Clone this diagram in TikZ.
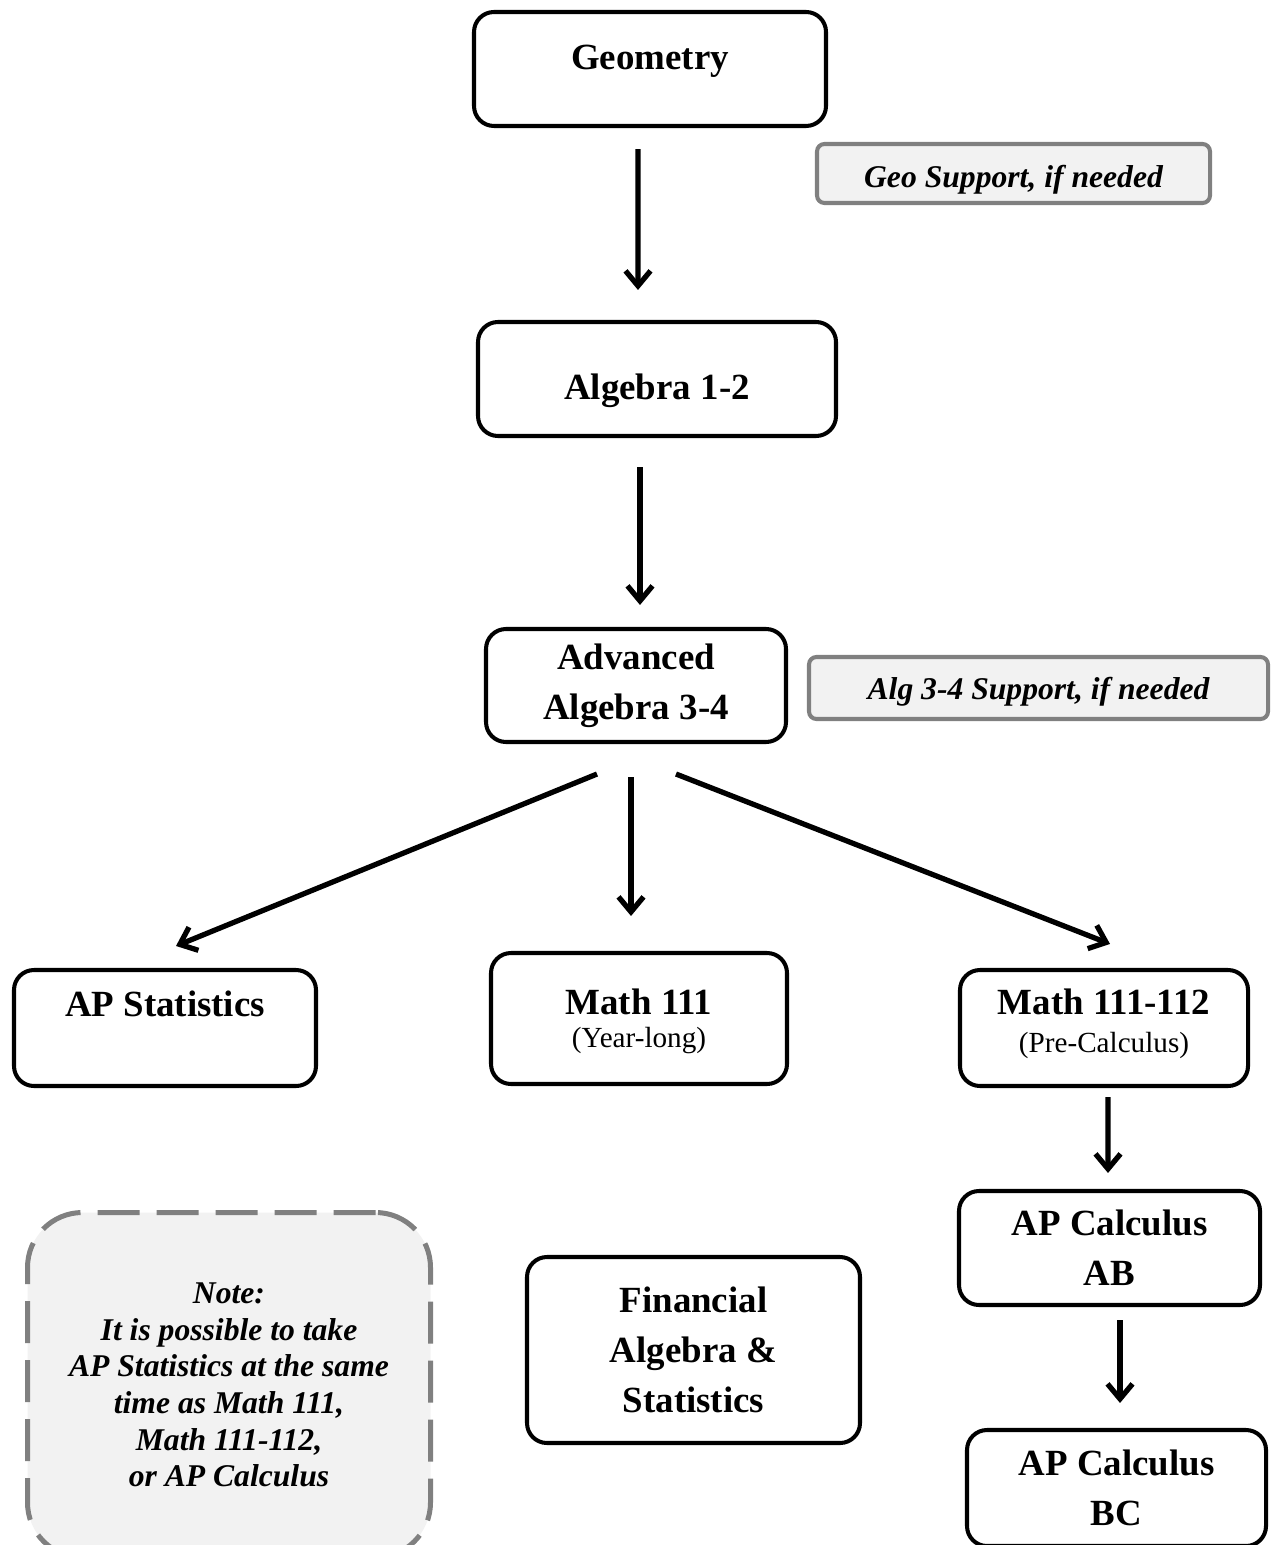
\documentclass[tikz,border=0pt]{standalone}
\usepackage{fontspec}
\setmainfont{Liberation Serif}
\usepackage{tikz}
\usetikzlibrary{arrows.meta,calc}
\definecolor{boxgray}{HTML}{808080}
\definecolor{boxfill}{HTML}{F2F2F2}
\newcommand{\coursefont}{\fontsize{21}{28.5}\selectfont\bfseries}
\newcommand{\subfont}{\fontsize{16.6}{19}\selectfont\mdseries}
\newcommand{\notefont}{\fontsize{18}{20.8}\selectfont\bfseries\itshape}
\newcommand{\lift}[2]{\raisebox{#1}[\height][\depth]{#2}}

\begin{document}
\begin{tikzpicture}[
    course/.style={draw, line width=2.3pt, rounded corners=0.4cm, align=center, font=\coursefont, inner sep=0pt},
    support/.style={draw=boxgray, fill=boxfill, line width=2.3pt, rounded corners=0.15cm, font=\notefont, inner sep=0pt},
    notebox/.style={draw=boxgray, fill=boxfill, line width=0.1cm, dash pattern=on 0.84cm off 0.34cm, rounded corners=1.1cm, align=center, font=\notefont, inner sep=0pt},
    flow/.style={line width=3pt, -{Straight Barb[length=0.3cm, width=0.5cm]}}
  ]
      \useasboundingbox (0,0) rectangle (25.42,-30.9);
      % Define nodes
      \node[course, minimum width=7.04cm, minimum height=2.28cm] (geo) at (13.0,-1.38) {\lift{0.16cm}{Geometry}};
      \node[support, minimum width=7.86cm, minimum height=1.18cm] (geosup) at (20.27,-3.47) {\lift{-0.12cm}{Geo Support, if needed}};
      \node[course, minimum width=7.16cm, minimum height=2.28cm] (alg) at (13.14,-7.58) {\lift{-0.24cm}{Algebra 1-2}};
      \node[course, minimum width=6.0cm, minimum height=2.26cm] (adv) at (12.72,-13.71) {Advanced\\Algebra 3-4};
      \node[support, minimum width=9.18cm, minimum height=1.24cm] (advsup) at (20.77,-13.76) {\lift{-0.08cm}{Alg 3-4 Support, if needed}};
      \node[course, minimum width=6.04cm, minimum height=2.32cm] (stat) at (3.3,-20.56) {AP Statistics\\[-7pt]{\subfont\strut}};
      \node[course, minimum width=5.92cm, minimum height=2.62cm] (m111) at (12.78,-20.37) {\lift{-0.1cm}{Math 111}\\[-7pt]{\subfont (Year-long)}};
      \node[course, minimum width=5.76cm, minimum height=2.32cm] (m112) at (22.08,-20.56) {\lift{0.08cm}{Math 111-112}\\[-7pt]{\subfont\lift{0.08cm}{(Pre-Calculus)}}};
      \node[course, minimum width=6.02cm, minimum height=2.28cm] (ab) at (22.19,-24.96) {AP Calculus\\AB};
      \node[course, minimum width=6.66cm, minimum height=3.72cm] (fin) at (13.87,-27.0) {Financial\\Algebra \&\\Statistics};
      \node[course, minimum width=5.98cm, minimum height=2.32cm] (bc) at (22.33,-29.76) {AP Calculus\\BC};
      \node[notebox, minimum width=8.06cm, minimum height=6.9cm] (note) at (4.58,-27.7) {Note:\\It is possible to take\\AP Statistics at the same\\time as Math 111,\\Math 111-112,\\or AP Calculus};
      % Arrows
      \draw[flow] ($(geo.south)+(-0.24,-0.42)$) -- ($(alg.north)+(-0.38,0.6)$);
      \draw[flow] ($(alg.south)+(-0.34,-0.58)$) -- ($(adv.north)+(0.08,0.44)$);
      \draw[flow] ($(adv.south)+(-0.78,-0.6)$) -- ($(stat.north)+(0.22,0.44)$);
      \draw[flow] ($(adv.south)+(-0.1,-0.66)$) -- ($(m111.north)+(-0.16,0.7)$);
      \draw[flow] ($(adv.south)+(0.8,-0.6)$) -- ($(m112.north)+(0.12,0.48)$);
      \draw[flow] ($(m112.south)+(0.08,-0.18)$) -- ($(ab.north)+(-0.03,0.32)$);
      \draw[flow] ($(ab.south)+(0.21,-0.26)$) -- ($(bc.north)+(0.07,0.5)$);
\end{tikzpicture}
\end{document}
